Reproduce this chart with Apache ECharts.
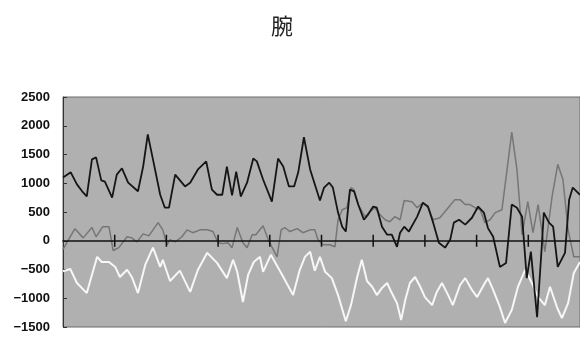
<!DOCTYPE html>
<html>
<head>
<meta charset="utf-8">
<script src="https://cdn.jsdelivr.net/npm/echarts@6/dist/echarts.min.js"></script>
<style>
html,body{margin:0;padding:0;background:#fff;}
#c{width:580px;height:344px;}
</style>
</head>
<body>
<div id="c"></div>
<script>
var titleText = '腕';
var yTicks = [-1500, -1000, -500, 0, 500, 1000, 1500, 2000, 2500];
var xTicks = [10, 20, 30, 40, 50, 60, 70, 80, 90];

// [x position (0..100), value]
var blackSeries = [
[0,1100],[1.5,1190],[2.7,980],[3.7,860],[4.6,770],[5.6,1415],[6.4,1450],[7.4,1050],[8.1,1030],[9.5,750],
[10.4,1150],[11.4,1260],[12.6,1010],[14.5,860],[15.5,1290],[16.4,1850],[17.4,1415],[18.8,800],[19.7,575],[20.5,575],
[21.7,1150],[23.6,945],[24.6,1010],[26.1,1240],[27.7,1380],[28.8,890],[29.8,800],[30.8,800],[31.7,1290],[32.7,790],
[33.5,1200],[34.4,770],[35.6,1010],[36.8,1430],[37.5,1380],[38.7,1065],[40.4,680],[41.6,1430],[42.6,1290],[43.7,945],
[44.7,945],[45.5,1190],[46.6,1800],[47.8,1240],[49.7,700],[50.5,925],[51.5,1010],[52.2,925],[53.2,490],[54.0,245],
[54.7,160],[55.5,890],[56.3,860],[57.1,630],[58.2,365],[59.0,455],[60.0,595],[60.7,575],[61.7,245],[62.7,105],
[63.6,105],[64.6,-105],[65.2,140],[66.0,245],[66.9,160],[68.5,420],[69.6,660],[70.6,595],[71.6,315],[72.7,-35],
[73.9,-120],[74.9,20],[75.6,315],[76.6,365],[77.8,280],[79.1,400],[80.3,595],[81.4,490],[82.2,220],[83.2,70],
[84.5,-455],[85.7,-385],[86.8,630],[87.8,575],[88.8,420],[89.7,-650],[90.5,-190],[91.7,-1330],[92.6,-105],[93.0,490],
[94.0,315],[94.8,245],[95.7,-455],[97.1,-210],[97.9,715],[98.6,925],[100,800]
];

var graySeries = [
[0,-150],[2.3,210],[3.9,50],[5.6,230],[6.4,70],[7.7,245],[8.9,245],[9.7,-170],[10.8,-120],[12.4,70],
[13.3,50],[14.3,-20],[15.5,120],[16.6,85],[18.4,315],[19.3,190],[20.1,-70],[20.7,20],[21.7,-20],[23.0,70],
[24.0,190],[25.1,140],[26.5,190],[27.9,190],[29.0,160],[30.0,-35],[30.9,-50],[31.9,-35],[32.7,-120],[33.7,230],
[34.8,-35],[35.6,-120],[36.6,105],[37.3,105],[38.7,260],[39.7,20],[40.4,-105],[41.4,-280],[42.2,190],[42.9,230],
[43.9,160],[45.3,210],[46.4,140],[47.8,190],[48.7,190],[49.3,20],[50.3,-70],[51.6,-70],[52.6,-105],[53.2,365],
[54.0,540],[54.9,575],[55.7,925],[56.3,890],[57.1,630],[58.4,420],[59.4,505],[60.3,575],[61.3,455],[62.3,365],
[63.2,330],[64.2,420],[65.2,365],[66.0,700],[67.5,680],[68.5,575],[69.6,660],[70.6,575],[71.6,365],[72.9,400],
[74.5,575],[75.8,715],[76.8,715],[77.8,630],[78.7,630],[79.7,575],[80.7,540],[81.6,315],[82.6,365],[83.6,490],
[84.9,540],[85.9,1240],[86.8,1890],[87.8,1240],[88.8,105],[89.9,680],[90.9,140],[91.9,630],[92.6,190],[93.2,-190],
[94.6,770],[95.7,1330],[96.7,1065],[97.7,190],[98.8,-280],[100,-280]
];

var whiteSeries = [
[0,-530],[1.4,-490],[2.7,-735],[4.6,-910],[6.6,-280],[7.5,-370],[8.9,-370],[10.1,-455],[11.0,-630],[12.4,-505],
[13.3,-630],[14.5,-910],[15.9,-420],[17.4,-120],[18.8,-455],[19.3,-330],[20.7,-700],[22.6,-520],[24.6,-890],[26.1,-505],
[27.9,-210],[29.8,-385],[31.7,-650],[32.9,-330],[33.7,-540],[34.8,-1065],[35.8,-595],[36.9,-370],[38.1,-280],[38.7,-540],
[40.2,-245],[42.4,-595],[44.5,-945],[45.8,-505],[46.8,-280],[47.8,-190],[48.7,-520],[49.7,-280],[50.7,-540],[52.0,-650],
[53.2,-945],[54.7,-1400],[55.7,-1120],[56.9,-630],[57.8,-330],[58.8,-700],[59.8,-800],[60.7,-945],[61.7,-820],[62.7,-735],
[63.6,-910],[64.6,-1085],[65.4,-1380],[66.2,-1030],[67.1,-735],[68.1,-630],[69.1,-800],[70.0,-980],[71.4,-1120],[72.3,-890],
[73.3,-735],[74.5,-945],[75.4,-1120],[76.8,-770],[77.8,-650],[79.1,-855],[80.1,-980],[81.6,-735],[82.2,-650],[83.2,-855],
[84.5,-1150],[85.5,-1430],[86.8,-1205],[88.0,-800],[89.4,-505],[90.7,-735],[91.9,-980],[93.2,-1120],[94.2,-800],[95.6,-1170],
[96.5,-1345],[97.7,-1085],[98.8,-560],[100,-370]
];

var chart = echarts.init(document.getElementById('c'), null, {renderer: 'canvas'});
chart.setOption({
  animation: false,
  backgroundColor: '#ffffff',
  title: {
    text: titleText, left: 277, top: 10, textAlign: 'center',
    textStyle: {fontFamily: 'Noto Sans CJK JP', fontSize: 22, fontWeight: 'normal', color: '#222'}
  },
  grid: {
    left: 63, top: 97, right: 0, bottom: 17, show: true,
    backgroundColor: '#b0b0b0', borderColor: '#6a6a6a', borderWidth: 1
  },
  xAxis: {
    type: 'value', min: 0, max: 100, interval: 10,
    axisLabel: {show: false}, splitLine: {show: false}, axisTick: {show: false},
    axisLine: {onZero: true, lineStyle: {color: '#111', width: 1.5}},
    z: 5
  },
  yAxis: {
    type: 'value', min: yTicks[0], max: yTicks[yTicks.length - 1], interval: 500,
    splitLine: {show: false},
    axisLine: {show: true, onZero: false, lineStyle: {color: '#333', width: 1}},
    axisTick: {show: true, inside: true, length: 4, lineStyle: {color: '#333'}},
    axisLabel: {
      margin: 13, color: '#111', fontFamily: 'Liberation Sans', fontWeight: 'bold', fontSize: 13,
      formatter: function (v) { return v < 0 ? '\u2212' + Math.abs(v) : String(v); }
    }
  },
  series: [
    {type: 'line', data: graySeries, showSymbol: false, symbol: 'none', lineStyle: {color: '#767676', width: 1.5}, z: 2},
    {type: 'line', data: whiteSeries, showSymbol: false, symbol: 'none', lineStyle: {color: '#f7f7f7', width: 2}, z: 3},
    {type: 'line', data: blackSeries, showSymbol: false, symbol: 'none', lineStyle: {color: '#151515', width: 1.8}, z: 4},
    {
      type: 'custom', z: 6, silent: true,
      data: xTicks.map(function (t) { return [t, 0]; }),
      renderItem: function (params, api) {
        var p = api.coord([api.value(0), api.value(1)]);
        return {
          type: 'line',
          shape: {x1: p[0], y1: p[1] - 6, x2: p[0], y2: p[1] + 6},
          style: {stroke: '#111', lineWidth: 1.5}
        };
      }
    }
  ]
});
</script>
</body>
</html>
